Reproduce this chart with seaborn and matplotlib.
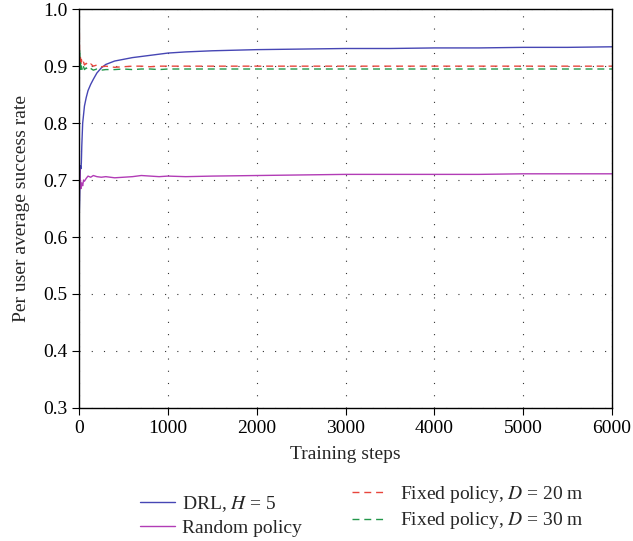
import matplotlib
matplotlib.use("Agg")
import matplotlib.pyplot as plt
import pandas as pd
import seaborn as sns

# training steps sampled (dense at the start)
steps = [0, 5, 10, 15, 20, 25, 30, 40, 50, 60, 80, 100, 130, 160, 200, 250, 300,
         400, 500, 600, 700, 800, 900, 1000, 1200, 1500, 2000, 2500, 3000,
         3500, 4000, 4500, 5000, 5500, 6000]

drl = [0.63, 0.66, 0.70, 0.725, 0.72, 0.73, 0.76, 0.80, 0.815, 0.83, 0.845, 0.857,
       0.868, 0.877, 0.888, 0.897, 0.903, 0.909, 0.912, 0.915, 0.917, 0.919, 0.921,
       0.923, 0.925, 0.927, 0.929, 0.930, 0.931, 0.931, 0.932, 0.932, 0.933, 0.933, 0.934]

random_policy = [0.63, 0.72, 0.69, 0.70, 0.685, 0.69, 0.695, 0.69, 0.70, 0.698, 0.703,
                 0.707, 0.705, 0.708, 0.706, 0.705, 0.706, 0.704, 0.705, 0.706, 0.708,
                 0.707, 0.706, 0.707, 0.706, 0.707, 0.708, 0.709, 0.710, 0.710, 0.710,
                 0.710, 0.711, 0.711, 0.711]

fixed_20 = [1.0, 0.92, 0.90, 0.915, 0.905, 0.912, 0.908, 0.903, 0.907, 0.902, 0.905,
            0.901, 0.904, 0.900, 0.902, 0.899, 0.900, 0.898, 0.899, 0.900, 0.900,
            0.899, 0.900, 0.900, 0.900, 0.900, 0.900, 0.900, 0.900, 0.900, 0.900,
            0.900, 0.900, 0.900, 0.900]

fixed_30 = [0.87, 0.93, 0.895, 0.905, 0.89, 0.90, 0.897, 0.892, 0.899, 0.894, 0.897,
            0.893, 0.896, 0.893, 0.895, 0.893, 0.894, 0.894, 0.895, 0.894, 0.895,
            0.895, 0.894, 0.895, 0.895, 0.895, 0.895, 0.895, 0.895, 0.895, 0.895,
            0.895, 0.895, 0.895, 0.895]

y_ticks = [0.3, 0.4, 0.5, 0.6, 0.7, 0.8, 0.9, 1.0]
y_labels = ['0.3', '0.4', '0.5', '0.6', '0.7', '0.8', '0.9', '1.0']

sns.set_theme(style="ticks")
plt.rcParams['font.family'] = ['Liberation Serif', 'DejaVu Serif']
plt.rcParams['mathtext.fontset'] = 'stix'

fig = plt.figure(figsize=(6.33, 5.41), dpi=100)
ax = fig.add_axes([0.125, 0.246, 0.842, 0.737])

df = pd.DataFrame({'step': steps, 'drl': drl, 'rand': random_policy,
                   'f20': fixed_20, 'f30': fixed_30})

sns.lineplot(data=df, x='step', y='drl', ax=ax, color='#4646b4', lw=1.0)
sns.lineplot(data=df, x='step', y='rand', ax=ax, color='#b23cb6', lw=1.0)
sns.lineplot(data=df, x='step', y='f20', ax=ax, color='#e8453c', lw=1.0)
sns.lineplot(data=df, x='step', y='f30', ax=ax, color='#23974a', lw=1.0)
lines = ax.get_lines()
for ln in lines[2:]:
    ln.set_dashes([5, 3.5])

ax.set_xlim(0, 6000)
ax.set_ylim(0.3, 1.0)
ax.set_xticks(range(0, 6001, 1000))
ax.set_yticks(y_ticks)
ax.set_yticklabels(y_labels)
ax.grid(True, color='#333333', linestyle=(0, (1, 10)), lw=0.8)
for s in ax.spines.values():
    s.set_color('black')
    s.set_linewidth(1.0)
ax.tick_params(direction='out', length=5, width=0.8, pad=3.5,
               labelsize=14, colors='black')
ax.set_xlabel('Training steps', fontsize=14, labelpad=7)
ax.set_ylabel('Per user average success rate', fontsize=14, labelpad=9)

fig.legend(lines[:2], ['DRL, $H$ = 5', 'Random policy'],
           loc='center left', bbox_to_anchor=(0.221, 0.047), frameon=False,
           fontsize=14, handlelength=1.8, handletextpad=0.36,
           labelspacing=0.3, borderaxespad=0, borderpad=0)
fig.legend(lines[2:], ['Fixed policy, $D$ = 20 m', 'Fixed policy, $D$ = 30 m'],
           loc='center left', bbox_to_anchor=(0.556, 0.062), frameon=False,
           fontsize=14, handlelength=1.8, handletextpad=0.67,
           labelspacing=0.3, borderaxespad=0, borderpad=0)

fig.savefig('out.png', dpi=100)
